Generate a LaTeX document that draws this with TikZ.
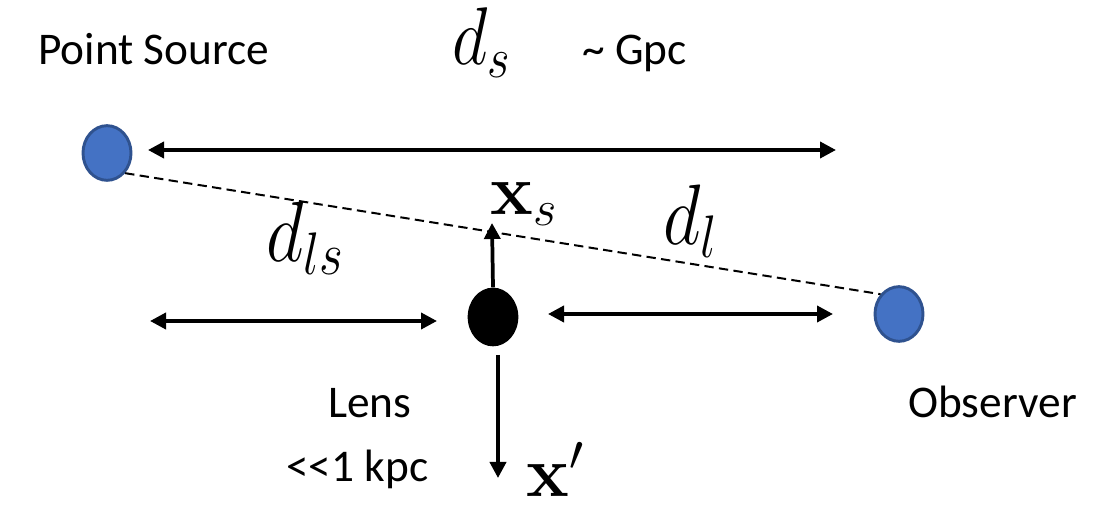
\RequirePackage{fix-cm}
\documentclass[tikz,border=0pt]{standalone}
\usepackage[no-math]{fontspec}
\setmainfont{Carlito}
\usetikzlibrary{arrows.meta,shapes.geometric}
\definecolor{srcfill}{HTML}{4472C4}
\definecolor{srcdraw}{HTML}{2F528F}
\tikzset{
  body/.style={ellipse, inner sep=0pt, minimum width=36pt, minimum height=41pt, fill=srcfill, draw=srcdraw, line width=2.2pt},
  lensbody/.style={ellipse, inner sep=0pt, minimum width=38pt, minimum height=44pt, fill=black},
  dimarrow/.style={line width=2.8pt, {Triangle[length=12pt,width=12pt]}-{Triangle[length=12pt,width=12pt]}},
  onearrow/.style={line width=2.8pt, -{Triangle[length=12pt,width=12pt]}},
  sight/.style={line width=1.5pt, dash pattern=on 7pt off 4pt},
  lbl/.style={font=\fontsize{34}{40}\selectfont, inner sep=0pt, anchor=base west},
  mth/.style={font=\fontsize{55}{66}\selectfont, inner sep=0pt, anchor=base west},
  mthb/.style={font=\fontsize{54}{64}\selectfont, inner sep=0pt, anchor=base west}
}
\begin{document}
\begin{tikzpicture}[x=0.75pt,y=-0.75pt]
\useasboundingbox (0,0) rectangle (1096,505);
% bodies
\node[body] (source) at (107,153) {};
\node[body] (observer) at (899,314) {};
\node[lensbody] (lens) at (493,317) {};
% line of sight
\draw[sight] (source.-48) -- (observer.133);
% distance arrows
\coordinate (tl) at (148,150);
\coordinate (tr) at (836,150);
\draw[dimarrow] (tl) -- (tr);
\coordinate (ml1) at (150,321);
\coordinate (ml2) at (437,321);
\draw[dimarrow] (ml1) -- (ml2);
\coordinate (mr1) at (548,314);
\coordinate (mr2) at (833,314);
\draw[dimarrow] (mr1) -- (mr2);
% lens-plane arrows
\coordinate (up) at (492,223);
\draw[onearrow] (lens.north) -- (up);
\coordinate (dn1) at (498,355);
\coordinate (dn2) at (498,478);
\draw[onearrow] (dn1) -- (dn2);
% labels
\node[lbl] (psrc) at (38,65) {Point Source};
\node[lbl] (gpc) at (582,65) {\char"007E{} Gpc};
\node[lbl] (lenslbl) at (328,418) {Lens};
\node[lbl] (kpc) at (286,482) {<{}<1 kpc};
\node[lbl] (obslbl) at (908,418) {Observer};
\node[mth, font=\fontsize{52}{62}\selectfont, yscale=1.18] (ds) at (452,65) {$d_s$};
\node[mth, yscale=1.17] (dls) at (266,262) {$d_{ls}$};
\node[mth, yscale=1.17] (dl) at (663,245) {$d_l$};
\node[mthb] (xs) at (490,215) {$\mathbf{x}_s$};
\node[mthb] (xp) at (526,497) {$\mathbf{x}'$};
\end{tikzpicture}
\end{document}
